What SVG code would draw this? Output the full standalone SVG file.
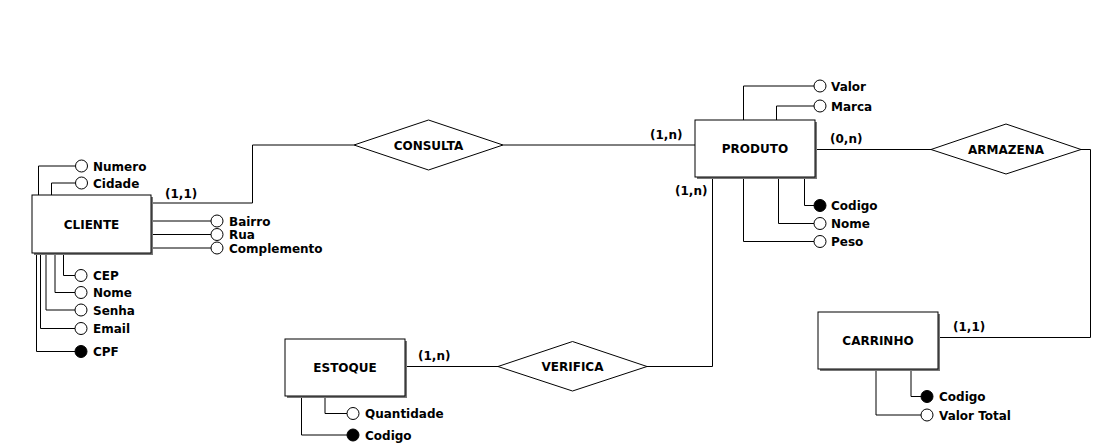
<svg xmlns="http://www.w3.org/2000/svg" width="1097" height="446" viewBox="0 0 1097 446">
<style>
.ent{fill:#fff;stroke:#000;stroke-width:1}
.sh{fill:#777;stroke:none}
.rel{fill:#fff;stroke:#000;stroke-width:1}
.ln{fill:none;stroke:#000;stroke-width:1}
.at{fill:#fff;stroke:#000;stroke-width:1}
.pk{fill:#000;stroke:#000;stroke-width:1}
.t{font-family:"DejaVu Sans",sans-serif;font-weight:bold;font-size:12px;fill:#000}
.lt{font-family:"DejaVu Sans",sans-serif;font-weight:bold;font-size:12px;fill:#000;text-anchor:middle}
</style>
<rect width="1097" height="446" fill="#fff"/>
<g id="connectors">
<polyline class="ln" points="151,203 252.5,203 252.5,145 354,145"/>
<line class="ln" x1="503" y1="145" x2="695" y2="145"/>
<line class="ln" x1="815" y1="149.5" x2="931" y2="149.5"/>
<polyline class="ln" points="1081,149.5 1090.5,149.5 1090.5,337.5 938,337.5"/>
<line class="ln" x1="405" y1="366.5" x2="498" y2="366.5"/>
<polyline class="ln" points="647,366.5 712.5,366.5 712.5,177"/>
<text class="t" x="165" y="198">(1,1)</text>
<text class="t" x="650" y="139">(1,n)</text>
<text class="t" x="675" y="195">(1,n)</text>
<text class="t" x="830" y="143">(0,n)</text>
<text class="t" x="953" y="331">(1,1)</text>
<text class="t" x="418" y="360">(1,n)</text>
</g>
<g id="CLIENTE">
<polyline class="ln" points="38.5,195 38.5,166 75,166"/>
<polyline class="ln" points="51.5,195 51.5,183 75,183"/>
<line class="ln" x1="151" y1="221" x2="211" y2="221"/>
<line class="ln" x1="151" y1="234.5" x2="211" y2="234.5"/>
<line class="ln" x1="151" y1="248" x2="211" y2="248"/>
<polyline class="ln" points="63.5,253 63.5,275.5 75,275.5"/>
<polyline class="ln" points="55,253 55,292.5 75,292.5"/>
<polyline class="ln" points="46,253 46,310 75,310"/>
<polyline class="ln" points="40.5,253 40.5,328.5 75,328.5"/>
<polyline class="ln" points="36.5,253 36.5,351.5 75,351.5"/>
<rect class="sh" x="34" y="197" width="119" height="58"/>
<rect class="ent" x="32" y="195" width="119" height="58"/>
<text class="lt" x="91.5" y="228.5">CLIENTE</text>
<circle class="at" cx="81.5" cy="166" r="6"/><text class="t" x="93" y="170.5">Numero</text>
<circle class="at" cx="81.5" cy="183" r="6"/><text class="t" x="93" y="187.5">Cidade</text>
<circle class="at" cx="217" cy="221" r="6"/><text class="t" x="229" y="225.5">Bairro</text>
<circle class="at" cx="217" cy="234.5" r="6"/><text class="t" x="229" y="239">Rua</text>
<circle class="at" cx="217" cy="248" r="6"/><text class="t" x="229" y="252.5">Complemento</text>
<circle class="at" cx="81" cy="275.5" r="6"/><text class="t" x="93" y="280">CEP</text>
<circle class="at" cx="81" cy="292.5" r="6"/><text class="t" x="93" y="297">Nome</text>
<circle class="at" cx="81" cy="310" r="6"/><text class="t" x="93" y="314.5">Senha</text>
<circle class="at" cx="81" cy="328.5" r="6"/><text class="t" x="93" y="333">Email</text>
<circle class="pk" cx="81" cy="351.5" r="6"/><text class="t" x="93" y="356">CPF</text>
</g>
<g id="CONSULTA">
<polygon class="rel" points="354,145 428.5,120 503,145 428.5,170"/>
<text class="lt" x="428.5" y="149.5">CONSULTA</text>
</g>
<g id="PRODUTO">
<polyline class="ln" points="743.5,120 743.5,86 814,86"/>
<polyline class="ln" points="776.5,120 776.5,106 814,106"/>
<polyline class="ln" points="804.5,177 804.5,205.5 814,205.5"/>
<polyline class="ln" points="778.5,177 778.5,223.5 814,223.5"/>
<polyline class="ln" points="743.5,177 743.5,241.5 814,241.5"/>
<rect class="sh" x="697" y="122" width="120" height="57"/>
<rect class="ent" x="695" y="120" width="120" height="57"/>
<text class="lt" x="755" y="153">PRODUTO</text>
<circle class="at" cx="820" cy="86" r="6"/><text class="t" x="831" y="90.5">Valor</text>
<circle class="at" cx="820" cy="106" r="6"/><text class="t" x="831" y="110.5">Marca</text>
<circle class="pk" cx="820" cy="205.5" r="6"/><text class="t" x="831" y="210">Codigo</text>
<circle class="at" cx="820" cy="223.5" r="6"/><text class="t" x="831" y="228">Nome</text>
<circle class="at" cx="820" cy="241.5" r="6"/><text class="t" x="831" y="246">Peso</text>
</g>
<g id="ARMAZENA">
<polygon class="rel" points="931,149.5 1006,124 1081,149.5 1006,174"/>
<text class="lt" x="1006" y="154">ARMAZENA</text>
</g>
<g id="CARRINHO">
<polyline class="ln" points="911,369 911,396.5 921,396.5"/>
<polyline class="ln" points="876,369 876,415 921,415"/>
<rect class="sh" x="820" y="314" width="120" height="57"/>
<rect class="ent" x="818" y="312" width="120" height="57"/>
<text class="lt" x="878" y="345">CARRINHO</text>
<circle class="pk" cx="927" cy="396.5" r="6"/><text class="t" x="939" y="401">Codigo</text>
<circle class="at" cx="927" cy="415" r="6"/><text class="t" x="939" y="419.5">Valor Total</text>
</g>
<g id="ESTOQUE">
<polyline class="ln" points="325,396 325,413.5 347,413.5"/>
<polyline class="ln" points="301.5,396 301.5,435 347,435"/>
<rect class="sh" x="287" y="341" width="120" height="57"/>
<rect class="ent" x="285" y="339" width="120" height="57"/>
<text class="lt" x="345" y="372">ESTOQUE</text>
<circle class="at" cx="353" cy="413.5" r="6"/><text class="t" x="365" y="418">Quantidade</text>
<circle class="pk" cx="353" cy="435" r="6"/><text class="t" x="365" y="439.5">Codigo</text>
</g>
<g id="VERIFICA">
<polygon class="rel" points="498,366.5 572.5,341.5 647,366.5 572.5,391"/>
<text class="lt" x="572.5" y="371">VERIFICA</text>
</g>
</svg>
